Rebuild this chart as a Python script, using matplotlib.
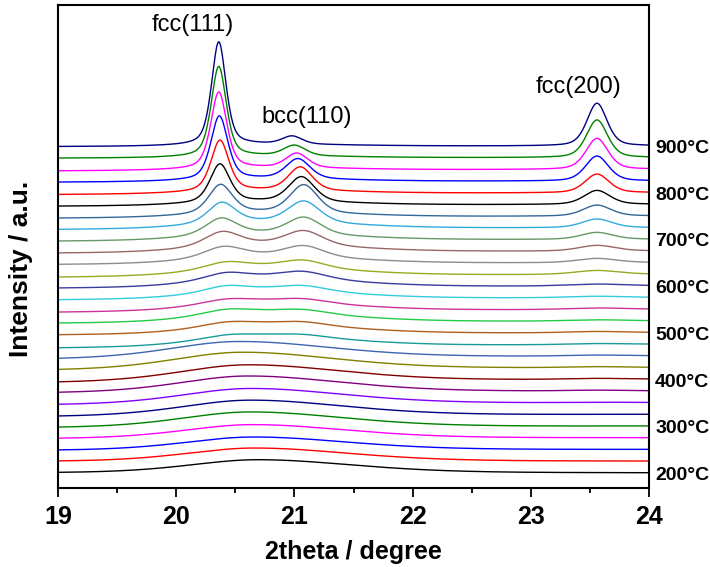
import numpy as np
import matplotlib
matplotlib.use("Agg")
import matplotlib.pyplot as plt

plt.rcParams['font.family'] = ['Liberation Sans', 'DejaVu Sans']

# ---------------- data ----------------
temps = list(range(200, 901, 25))          # 29 patterns, 200 .. 900 degC
label_temps = [200, 300, 400, 500, 600, 700, 800, 900]

# broad low-temperature hump
hump_h = [13.3, 13.5, 13.3, 14, 15.5, 16, 16, 16.6, 17, 17.5, 17,
          11, 10, 10, 9.5, 9, 9.5, 9, 8, 8, 7, 7, 5, 4, 3.5, 3, 2.5, 2, 2]
hump_c = [20.69, 20.66, 20.65, 20.64, 20.62, 20.62, 20.62, 20.60, 20.60, 20.55, 20.52,
          20.72, 20.72, 20.72, 20.72, 20.72, 20.72, 20.72, 20.72, 20.72, 20.72,
          20.72, 20.72, 20.72, 20.72, 20.72, 20.72, 20.72, 20.72]
hump_wl = [0.68] * 11 + [0.62] * 18
hump_wr = [0.95] * 11 + [0.85] * 18

# fcc(111)
fcc111_h = [0] * 11 + [3, 4, 5, 4.5, 6, 7, 7, 11, 14.5, 17, 21, 29, 38.5, 51, 63.5, 76.5, 90, 103]
fcc111_c = [20.42] * 11 + [20.42, 20.42, 20.42, 20.42, 20.42, 20.42, 20.42, 20.40, 20.39,
                           20.38, 20.385, 20.375, 20.37, 20.37, 20.365, 20.36, 20.36, 20.36]
fcc111_w = [0.25] * 11 + [0.25, 0.25, 0.25, 0.25, 0.22, 0.22, 0.22, 0.20, 0.18, 0.16,
                          0.14, 0.12, 0.10, 0.09, 0.085, 0.08, 0.075, 0.072]
# bcc(110)
bcc110_h = [0] * 11 + [2.5, 3.5, 4, 4, 5.5, 7.5, 8, 11, 14.5, 17, 21.5, 28, 25, 23.5, 20, 14.5, 10.5, 8]
bcc110_c = [21.07] * 11 + [21.07, 21.07, 21.07, 21.07, 21.07, 21.07, 21.07, 21.08, 21.08,
                           21.08, 21.08, 21.08, 21.06, 21.05, 21.03, 21.02, 21.00, 20.98]
bcc110_w = [0.25] * 11 + [0.25, 0.25, 0.25, 0.25, 0.25, 0.24, 0.22, 0.20, 0.19, 0.17,
                          0.16, 0.14, 0.13, 0.12, 0.12, 0.11, 0.11, 0.10]
# fcc(200)
fcc200_h = [0, 0, 0, 0, 0, 0, 0.5, 0.8, 1, 1, 1, 1, 1.3, 1.3, 1.5, 1.5, 2, 4, 4.3,
            5.7, 7, 8.7, 11, 14, 18.7, 25, 31, 37.7, 42.7]
fcc200_c = [23.56] * 29
fcc200_w = [0.3] * 17 + [0.22, 0.20, 0.18, 0.16, 0.15, 0.14, 0.13, 0.12, 0.115, 0.11, 0.105, 0.10]

# baseline drop at the low-angle end (relative to the high-angle end)
left_drop = [0, 0.3, 1, 1, 1.7, 2.3, 2.3, 2, 3.3, 2.7, 3.3, 3.7, 2.3, 2.3, 3, 2.3, 2.3, 3,
             2, 2.3, 2, 2, 2.3, 2, 2, 1.3, 1.7, 0.6, 0.7]

colors = ['#000000', '#FF0000', '#0000FF', '#FF00FF', '#008000', '#000080', '#8000FF',
          '#800080', '#800000', '#808000', '#3D66B0', '#1A9999', '#B0601E', '#22CC44',
          '#CC3399', '#33CCDD', '#3A3AA0', '#99AA22', '#8C8C8C', '#996666', '#669966',
          '#33AADD', '#336699', '#000000', '#FF0000', '#0000FF', '#FF00FF', '#008000',
          '#000080']

# ---------------- drawing ----------------
first_offset = 15.0
step = 11.68

def profile(x, c, wl, wr, eta):
    w = np.where(x < c, wl, wr)
    r2 = ((x - c) / w) ** 2
    return (1 - eta) * np.exp(-np.log(2) * r2) + eta / (1 + r2)

x = np.linspace(19, 24, 1501)

fig = plt.figure(figsize=(7.1, 5.67), dpi=100)
ax = fig.add_axes([58 / 710, 79 / 567, 591 / 710, 483 / 567])

for i, T in enumerate(temps):
    base = first_offset + step * i
    y = base - left_drop[i] * (24 - x) / 5.0
    y = y + hump_h[i] * profile(x, hump_c[i], hump_wl[i], hump_wr[i], 0.3)
    if fcc111_h[i] > 0:
        y = y + fcc111_h[i] * profile(x, fcc111_c[i], fcc111_w[i], fcc111_w[i], 0.5)
    if bcc110_h[i] > 0:
        y = y + bcc110_h[i] * profile(x, bcc110_c[i], bcc110_w[i], bcc110_w[i], 0.4)
    if fcc200_h[i] > 0:
        y = y + fcc200_h[i] * profile(x, fcc200_c[i], fcc200_w[i], fcc200_w[i], 0.4)
    ax.plot(x, y, color=colors[i], lw=1.0)
    if T in label_temps:
        ax.text(1.0102, base - 2.5, f'{T}\u00b0C', transform=ax.get_yaxis_transform(),
                ha='left', va='center', fontsize=14, fontweight='bold')

ax.set_xlim(19, 24)
ax.set_ylim(0, 483)
ax.set_xticks([19, 20, 21, 22, 23, 24])
ax.set_xticks(np.arange(19.5, 24, 1.0), minor=True)
ax.set_yticks([])
ax.tick_params(axis='x', which='major', direction='out', length=6.5, width=1.3,
               labelsize=18, pad=6)
ax.tick_params(axis='x', which='minor', direction='out', length=3.8, width=1.3)
for lab in ax.get_xticklabels():
    lab.set_fontweight('bold')
for sp in ax.spines.values():
    sp.set_linewidth(1.5)

ax.set_xlabel('2theta / degree', fontsize=18, fontweight='bold')
ax.xaxis.set_label_coords(0.5, -0.108)
ax.set_ylabel('Intensity / a.u.', fontsize=19, fontweight='bold')
ax.yaxis.set_label_coords(-0.042, 0.453)

ax.text(20.14, 463, 'fcc(111)', fontsize=17, ha='center', va='center')
ax.text(21.1, 371, 'bcc(110)', fontsize=17, ha='center', va='center')
ax.text(23.40, 401, 'fcc(200)', fontsize=17, ha='center', va='center')

fig.savefig('out.png', dpi=100)
